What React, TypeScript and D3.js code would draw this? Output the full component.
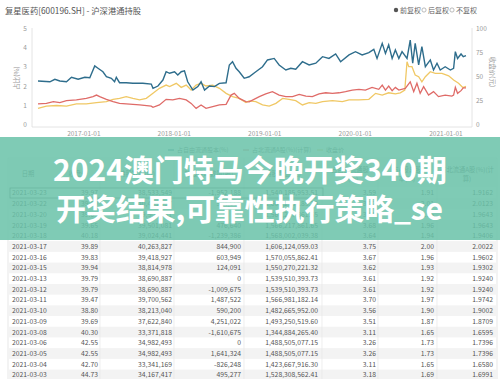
import React from 'react';
import * as d3 from 'd3';

type Pt = [string, number];

// 占自由流通股本(%)
const freeFloatPct: Pt[] = [
  ["2016-06-30",2.28],["2016-08-17",2.24],["2016-09-06",2.37],["2016-09-26",2.28],["2016-10-23",2.24],["2016-11-12",2.47],["2016-12-09",2.37],["2017-01-05",2.47],["2017-01-25",2.45],["2017-02-14",3.06],["2017-02-27",2.94],["2017-03-19",2.76],["2017-04-02",2.50],["2017-04-22",2.42],["2017-05-05",2.24],["2017-05-12",2.47],["2017-05-25",2.19],["2017-06-21",2.19],["2017-07-18",2.16],["2017-08-27",2.16],["2017-09-30",2.12],["2017-10-07",1.90],["2017-10-27",2.02],["2017-11-16",2.33],["2017-11-29",2.76],["2017-12-13",2.68],["2018-01-02",2.76],["2018-01-15",2.59],["2018-01-29",2.76],["2018-02-11",2.81],["2018-02-24",2.24],["2018-03-17",1.81],["2018-04-06",1.99],["2018-04-19",2.24],["2018-05-03",1.81],["2018-05-23",2.02],["2018-06-12",1.99],["2018-07-02",2.16],["2018-07-29",2.19],["2018-08-11",3.11],["2018-08-24",3.28],["2018-09-07",2.94],["2018-09-20",2.76],["2018-10-10",2.42],["2018-10-30",2.50],["2018-11-26",2.76],["2018-12-23",3.02],["2019-01-12",3.37],["2019-02-08",3.45],["2019-02-28",3.11],["2019-03-27",2.85],["2019-04-16",2.94],["2019-05-06",2.89],["2019-06-02",3.28],["2019-06-29",3.11],["2019-07-26",3.20],["2019-08-22",3.54],["2019-09-17",3.45],["2019-10-14",3.68],["2019-11-03",3.28],["2019-12-07",3.63],["2020-01-02",3.80],["2020-01-29",3.63],["2020-02-25",3.75],["2020-03-16",3.92],["2020-03-29",3.45],["2020-04-19",4.23],["2020-05-02",3.71],["2020-05-15",4.15],["2020-05-29",3.45],["2020-06-11",3.89],["2020-06-25",3.45],["2020-07-08",3.80],["2020-07-28",3.45],["2020-08-10",4.40],["2020-08-20",3.20],["2020-08-30",4.23],["2020-09-13",3.11],["2020-09-26",4.06],["2020-10-10",3.02],["2020-10-30",3.37],["2020-11-12",2.85],["2020-11-26",3.20],["2020-12-09",2.85],["2020-12-29",3.02],["2021-01-19",2.85],["2021-02-01",2.94],["2021-02-08",3.80],["2021-02-17",3.45],["2021-03-03",3.68],["2021-03-12",3.54],["2021-03-23",3.59]
];

// 占北流通A股(%)(计算)
const northAPct: Pt[] = [
  ["2016-06-30",1.09],["2016-08-03",1.12],["2016-08-31",1.21],["2016-09-26",1.16],["2016-10-23",1.26],["2016-12-02",1.30],["2017-01-11",1.38],["2017-02-07",1.47],["2017-02-21",1.55],["2017-03-06",1.47],["2017-04-02",1.33],["2017-04-29",1.21],["2017-05-25",1.12],["2017-06-21",1.09],["2017-08-14",1.04],["2017-09-30",0.98],["2017-10-07",0.92],["2017-11-02",1.04],["2017-11-29",1.33],["2017-12-26",1.30],["2018-01-22",1.38],["2018-02-18",1.30],["2018-03-10",1.12],["2018-03-30",0.86],["2018-04-19",1.04],["2018-05-09",0.86],["2018-06-05",0.95],["2018-07-02",1.04],["2018-07-29",1.07],["2018-08-18",1.55],["2018-08-31",1.64],["2018-09-20",1.38],["2018-10-17",1.21],["2018-10-30",1.20],["2018-12-10",1.47],["2019-01-05",1.61],["2019-02-01",1.73],["2019-02-28",1.55],["2019-03-27",1.47],["2019-04-23",1.47],["2019-05-20",1.59],["2019-06-16",1.50],["2019-07-12",1.47],["2019-08-08",1.61],["2019-09-04",1.67],["2019-10-01",1.64],["2019-10-28",1.67],["2019-11-23",1.73],["2019-12-20",1.81],["2020-01-16",1.85],["2020-02-11",1.81],["2020-03-09",1.95],["2020-04-05",1.85],["2020-04-19",2.07],["2020-05-02",1.81],["2020-05-15",2.02],["2020-05-29",1.78],["2020-06-11",1.95],["2020-06-25",1.81],["2020-07-21",1.90],["2020-08-10",2.24],["2020-08-24",1.73],["2020-09-06",2.16],["2020-09-19",1.64],["2020-10-03",1.99],["2020-10-23",1.55],["2020-11-12",1.73],["2020-12-02",1.47],["2020-12-29",1.55],["2021-01-25",1.50],["2021-02-01",1.55],["2021-02-08",1.95],["2021-02-17",1.64],["2021-03-03",1.78],["2021-03-12",1.92],["2021-03-23",1.92]
];

// 收盘价(元)
const closePrice: Pt[] = [
  ["2016-06-30",17.2],["2016-08-03",19.6],["2016-09-13",20.2],["2016-10-23",19.6],["2016-12-02",21.8],["2017-01-11",21.8],["2017-02-21",23.2],["2017-04-02",24.2],["2017-04-29",26.6],["2017-05-25",27.6],["2017-06-21",29.4],["2017-07-18",27.6],["2017-08-14",26.0],["2017-09-10",27.6],["2017-10-07",32.8],["2017-11-02",38.0],["2017-11-29",41.4],["2017-12-13",39.8],["2018-01-09",43.2],["2018-01-29",39.0],["2018-02-18",41.4],["2018-03-10",36.2],["2018-03-30",41.4],["2018-04-19",43.2],["2018-05-09",40.4],["2018-06-05",41.4],["2018-07-02",38.0],["2018-07-29",32.8],["2018-08-24",29.4],["2018-09-20",27.6],["2018-10-17",23.2],["2018-10-30",25.0],["2018-11-26",24.2],["2018-12-23",20.8],["2019-01-19",19.6],["2019-02-15",22.4],["2019-03-14",27.6],["2019-04-09",26.6],["2019-05-06",25.2],["2019-06-02",20.8],["2019-06-29",23.2],["2019-07-26",22.4],["2019-08-22",24.2],["2019-10-01",25.2],["2019-11-10",24.2],["2019-12-07",26.0],["2020-01-16",26.0],["2020-02-25",26.6],["2020-03-23",32.8],["2020-04-19",31.0],["2020-05-15",33.4],["2020-06-11",32.2],["2020-07-01",33.4],["2020-07-19",36.2],["2020-07-28",65.6],["2020-08-04",60.4],["2020-08-17",60.4],["2020-08-30",51.8],["2020-09-13",50.0],["2020-09-26",44.8],["2020-10-10",50.0],["2020-10-30",55.2],["2020-11-19",53.6],["2020-12-16",53.6],["2021-01-12",51.0],["2021-02-01",46.6],["2021-02-21",43.2],["2021-03-10",38.8],["2021-03-23",39.97]
];

const xTickDates = ["2017-01-01","2018-01-01","2019-01-01","2020-01-01","2021-01-01"];
const leftTicks = [0,1,2,3,4,5];
const rightTicks = [0,25,50,75,100];

const title = "复星医药[600196.SH] - 沪深港通持股";
const legendTop = ["前复权","后复权","不复权"];
const legendTable = ["占自由流通股本(%)","占北流通A股(%)(计算)","收盘价"];

const tableDates = ["2021-03-23","2021-03-22","2021-03-20","2021-03-19","2021-03-18","2021-03-17","2021-03-16","2021-03-15","2021-03-13","2021-03-12","2021-03-11","2021-03-10","2021-03-09","2021-03-08","2021-03-06","2021-03-05","2021-03-04","2021-03-03"];
const tableClose = ["39.97","39.60","39.65","39.65","40.18","39.89","39.83","39.94","39.79","39.79","39.47","38.80","39.69","40.30","42.55","42.55","42.70","44.73"];
const tableShares = ["38,533,549","40,485,737","39,501,081","39,501,081","39,024,441","40,263,827","39,418,927","38,814,978","38,690,887","38,690,887","39,700,562","38,213,040","37,622,840","33,371,818","34,982,493","34,982,493","33,341,169","34,167,417"];
const tableChange = ["-1,952,188","984,656","0","476,640","-1,239,386","844,900","603,949","124,091","0","-1,009,675","1,487,522","590,200","4,251,022","-1,610,675","0","1,641,324","-826,248","495,277"];
const tableValue = ["1,540,185,953.51","1,603,235,185.20","1,566,217,861.65","1,566,217,861.65","1,568,002,039.38","1,606,124,059.03","1,570,055,862.41","1,550,270,221.32","1,539,510,393.73","1,539,510,393.73","1,566,981,182.14","1,482,665,952.00","1,493,250,519.60","1,344,884,265.40","1,488,505,077.15","1,488,505,077.15","1,423,667,916.30","1,528,308,562.41"];
const tableFree = ["3.59","3.77","3.68","3.68","3.64","3.75","3.67","3.62","3.61","3.61","3.70","3.56","3.51","3.11","3.26","3.26","3.11","3.18"];
const tableA = ["1.91","2.01","1.96","1.96","1.94","2.00","1.96","1.93","1.92","1.92","1.97","1.90","1.87","1.65","1.73","1.73","1.65","1.69"];
const tableNorth = ["1.9162","2.0123","1.9643","1.9643","1.9406","2.0022","1.9602","1.9302","1.9240","1.9240","1.9742","1.9002","1.8709","1.6595","1.7396","1.7396","1.6580","1.6991"];

const headers: string[][] = [["日期"],["收盘价"],["持股数量(股)"],["持股变动数量(股)"],["持股市值(元)"],["占自由流通股","本(%)"],["占A股总股","本(%)"],["占北流通A股(%)(计","算)"]];

export default function App() {
  const parse = d3.timeParse("%Y-%m-%d");
  const x = d3.scaleTime().domain([parse("2016-06-30")!, parse("2021-03-23")!]).range([38, 466]);
  const yL = d3.scaleLinear().domain([0, 5]).range([125, 28.5]);
  const yR = d3.scaleLinear().domain([0, 100]).range([125, 28.5]);
  const lineL = d3.line<Pt>().x(d => x(parse(d[0])!)).y(d => yL(d[1]));
  const lineR = d3.line<Pt>().x(d => x(parse(d[0])!)).y(d => yR(d[1]));

  const font = "'Noto Sans CJK SC', 'Noto Sans', sans-serif";
  const colRight = [0, 98, 172, 241, 318, 376, 434, 493];
  const colCenter = [28, 78, 137, 209, 283, 350, 407, 467];
  const seps = [100, 174, 244, 322, 378, 437];
  const rowY = (i: number) => 193 + i * 10.7;

  return (
    <svg width={500} height={379} style={{ position: 'absolute', left: 0, top: 0, background: '#fff' }} fontFamily={font}>
      <rect x={0} y={0} width={500} height={379} fill="#fff" />
      {/* Title and legend */}
      <text x={5} y={14} fontSize={8.3} fill="#555">{title}</text>
      <g fontSize={7} fill="#666">
        <circle cx={396} cy={10} r={2.2} fill="#555" />
        <text x={400} y={12.5}>{legendTop[0]}</text>
        <circle cx={424} cy={10} r={2.1} fill="none" stroke="#aaa" strokeWidth={0.8} />
        <text x={428} y={12.5}>{legendTop[1]}</text>
        <circle cx={452} cy={10} r={2.1} fill="none" stroke="#aaa" strokeWidth={0.8} />
        <text x={456} y={12.5}>{legendTop[2]}</text>
      </g>
      {/* Axes */}
      <line x1={32} y1={28} x2={32} y2={127} stroke="#ddd" strokeWidth={0.8} />
      <line x1={472} y1={28} x2={472} y2={127} stroke="#ddd" strokeWidth={0.8} />
      <line x1={32} y1={127} x2={472} y2={127} stroke="#ddd" strokeWidth={0.8} />
      <g fontSize={6.5} fill="#999">
        {leftTicks.map(t => <text key={t} x={25} y={yL(t) + 2.2} textAnchor="middle">{t}</text>)}
        {rightTicks.map(t => <text key={t} x={476} y={yR(t) + 2.2}>{t}</text>)}
        {xTickDates.map(d => <text key={d} x={x(parse(d)!)} y={136} textAnchor="middle">{d}</text>)}
        <text transform="translate(19,78) rotate(-90)" textAnchor="middle">占比(%)</text>
        <text transform="translate(490,72) rotate(90)" textAnchor="middle">收盘价(元)</text>
      </g>
      {/* Lines */}
      <path d={lineR(closePrice) || ''} fill="none" stroke="#f0c865" strokeWidth={1.3} />
      <path d={lineL(northAPct) || ''} fill="none" stroke="#df6b68" strokeWidth={1.3} />
      <path d={lineL(freeFloatPct) || ''} fill="none" stroke="#2e6d8c" strokeWidth={1.4} />

      {/* Table legend */}
      <g fontSize={6} fill="#777">
        <line x1={168} y1={150} x2={174} y2={150} stroke="#2e6d8c" />
        <text x={177} y={152}>{legendTable[0]}</text>
        <line x1={243} y1={150} x2={249} y2={150} stroke="#df6b68" />
        <text x={252} y={152}>{legendTable[1]}</text>
        <line x1={317} y1={150} x2={323} y2={150} stroke="#f0c865" />
        <text x={326} y={152}>{legendTable[2]}</text>
      </g>
      {/* Table */}
      <rect x={8} y={158} width={489} height={230} fill="none" stroke="#e2e2e2" strokeWidth={0.8} />
      <rect x={8.5} y={158.5} width={488} height={29} fill="#f7f7f7" />
      {tableDates.map((d, i) => i % 2 === 1 ? (
        <rect key={'bg' + d} x={8.5} y={rowY(i) - 5.35} width={488} height={10.7} fill="#f3f3f3" />
      ) : null)}
      {seps.map(s => <line key={s} x1={s} y1={158} x2={s} y2={379} stroke="#e6e6e6" strokeWidth={0.7} />)}
      <g fontSize={6.3} fill="#666">
        {headers.map((h, j) => h.map((line, k) => (
          <text key={j + '-' + k} x={colCenter[j]} y={h.length === 1 ? 176 : 172 + k * 9} textAnchor="middle">{line}</text>
        )))}
      </g>
      <g fontSize={6.8} fill="#555">
        {tableDates.map((d, i) => {
          const y = rowY(i) + 2.4;
          const cells = [tableClose[i], tableShares[i], tableChange[i], tableValue[i], tableFree[i], tableA[i], tableNorth[i]];
          return (
            <g key={d}>
              <text x={12} y={y}>{d}</text>
              {cells.map((c, j) => <text key={j} x={colRight[j + 1]} y={y} textAnchor="end">{c}</text>)}
            </g>
          );
        })}
      </g>
      <rect x={10} y={rowY(0) - 5} width={313} height={10} fill="none" stroke="#666" strokeWidth={0.8} />

      {/* Overlay band */}
      <rect x={0} y={137} width={500} height={103} fill="rgb(106,194,169)" opacity={0.86} />
      <g fill="#fff" fontWeight={700} fontSize={30} fontFamily="'Noto Sans CJK SC', sans-serif">
        <text x={53} y={181} textLength={394} lengthAdjust="spacing">2024澳门特马今晚开奖340期</text>
        <text x={56} y={220} textLength={387} lengthAdjust="spacing">开奖结果,可靠性执行策略_se</text>
      </g>
    </svg>
  );
}
